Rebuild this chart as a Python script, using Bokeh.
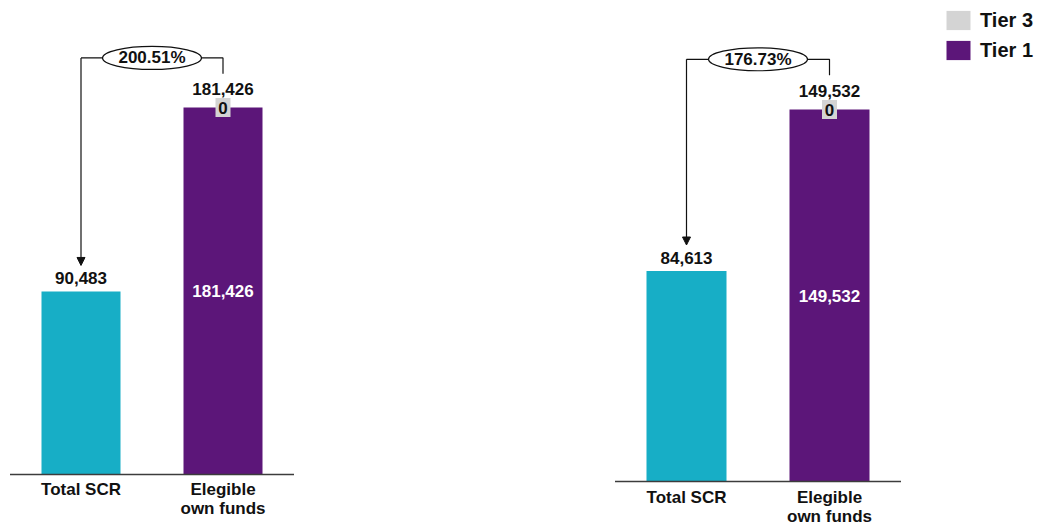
from bokeh.plotting import figure
from bokeh.layouts import row
from bokeh.models import Range1d, Arrow, NormalHead, Legend, LegendItem
from bokeh.core.properties import value
from bokeh.embed import file_html
from bokeh.resources import INLINE

# Solvency position per entity
categories = ["Total SCR", "Elegible\nown funds"]
scr = [90483, 84613]
tier1 = [181426, 149532]
tier3 = [0, 0]
ratio_labels = ["200.51%", "176.73%"]

CYAN = "#17AEC6"
PURPLE = "#5C1679"
GREY = "#D4D4D4"
INK = "#111111"
FONT = value("Liberation Sans")

H = 525
# per-panel geometry in screen pixels
panels = [
    dict(width=520, base_px=474, max_px=367, x0_px=80.5, step_px=142, bar_px=79, cat_off=5),
    dict(width=521, base_px=481, max_px=372, x0_px=166, step_px=143, bar_px=80, cat_off=6),
]


def fmt(v):
    return f"{v:,}"


def label(p, x, y, txt, color=INK, dy=0, size="17px"):
    p.text(x=x, y=y, text=txt, text_font=FONT, text_font_style="bold",
           text_font_size=size, text_color=color, text_align="center",
           text_baseline="middle", y_offset=dy)


def make_panel(i, g):
    vmax = tier1[i] + tier3[i]
    per_px = vmax / g["max_px"]
    y_start = -(H - g["base_px"]) * per_px
    y_end = g["base_px"] * per_px
    x_start = -g["x0_px"] / g["step_px"]
    x_end = x_start + g["width"] / g["step_px"]
    bw = g["bar_px"] / g["step_px"]

    p = figure(width=g["width"], height=H, output_backend="svg", toolbar_location=None,
               x_range=Range1d(x_start, x_end), y_range=Range1d(y_start, y_end),
               x_axis_type=None, y_axis_type=None, min_border=0)
    p.outline_line_color = None
    p.grid.visible = False

    # bars
    p.vbar(x=[0], top=[scr[i]], bottom=0, width=bw, fill_color=CYAN, line_color=None)
    r1 = p.vbar(x=[1], top=[tier1[i]], bottom=0, width=bw, fill_color=PURPLE, line_color=None)
    r3 = p.vbar(x=[1], top=[tier1[i] + tier3[i]], bottom=[tier1[i]], width=bw,
                fill_color=GREY, line_color=None)

    # baseline
    p.line(x=[-0.5, 1.5], y=[0, 0], line_color="#3C3C3C", line_width=1.5)

    # category labels under the baseline
    p.text(x=[0, 1], y=[0, 0], text=categories, text_font=FONT, text_font_style="bold",
           text_font_size="17px", text_color=INK, text_align="center", text_baseline="top",
           text_line_height=1.05, y_offset=g["cat_off"])

    # value labels
    label(p, [0], [scr[i]], [fmt(scr[i])], dy=-13)
    label(p, [1], [vmax], [fmt(vmax)], dy=-19)
    label(p, [1], [tier1[i] / 2], [fmt(tier1[i])], color="white")

    # tier 3 value tag on top of the stack
    y3 = tier1[i] + tier3[i] / 2
    p.rect(x=[1], y=[y3], width=15, height=19, width_units="screen", height_units="screen",
           fill_color=GREY, line_color=None)
    label(p, [1], [y3], [fmt(tier3[i])])

    # ratio connector
    top = 1.135 * vmax
    drop = 1.092 * vmax
    tip = scr[i] + 26 * per_px
    p.line(x=[1, 1, 0], y=[drop, top, top], line_color=INK, line_width=1.2)
    p.add_layout(Arrow(end=NormalHead(size=8, fill_color=INK, line_color=INK, line_width=1),
                       x_start=0, y_start=top, x_end=0, y_end=tip,
                       line_color=INK, line_width=1.2))
    p.ellipse(x=[0.5], y=[top], width=99, height=23, width_units="screen", height_units="screen",
              fill_color="white", line_color=INK, line_width=1.2)
    label(p, [0.5], [top], [ratio_labels[i]])
    return p, r1, r3


left, _, _ = make_panel(0, panels[0])
right, r1, r3 = make_panel(1, panels[1])

legend = Legend(items=[LegendItem(label="Tier 3", renderers=[r3]),
                       LegendItem(label="Tier 1", renderers=[r1])],
                location=(423, 463), orientation="vertical",
                glyph_width=30, glyph_height=24, spacing=6, padding=0, margin=0,
                label_standoff=7, label_height=24,
                label_text_font="Liberation Sans", label_text_font_style="bold",
                label_text_font_size="20px", label_text_color=INK,
                border_line_color=None, background_fill_alpha=0)
right.add_layout(legend)

layout = row(left, right)
layout.spacing = 0
open("out.html", "w").write(file_html(layout, INLINE))
